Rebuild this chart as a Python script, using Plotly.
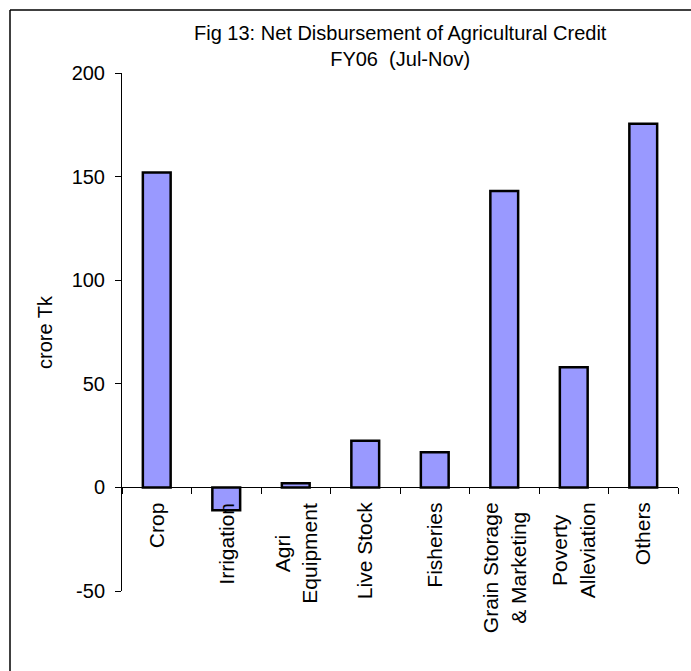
import plotly.graph_objects as go

# Net disbursement of agricultural credit, FY06 (Jul-Nov), crore Tk
categories = ["Crop", "Irrigation", "Agri Equipment", "Live Stock", "Fisheries",
              "Grain Storage & Marketing", "Poverty Alleviation", "Others"]
tick_labels = ["Crop", "Irrigation", "Agri<br>Equipment", "Live Stock", "Fisheries",
               "Grain Storage<br>& Marketing", "Poverty<br>Alleviation", "Others"]
values = [152, -11, 2, 22.5, 17, 143, 58, 175.5]
y_ticks = [-50, 0, 50, 100, 150, 200]

FONT = "Liberation Sans, Arial, sans-serif"
W, H = 691, 671
M_L, M_R, M_T, M_B = 122, 13, 73, 80
plot_w = W - M_L - M_R
plot_h = H - M_T - M_B


def px_to_paper_x(px):
    return (px - M_L) / plot_w


def px_to_paper_y(py):
    return (H - M_B - py) / plot_h


y_min, y_max = -50, 200

fig = go.Figure()
fig.add_trace(go.Bar(
    x=categories,
    y=values,
    width=0.4,
    marker=dict(color="#9999FF", line=dict(color="black", width=2.5)),
    showlegend=False,
))

# Category labels, rotated and hung just below the zero line
annotations = []
for cat, lab in zip(categories, tick_labels):
    annotations.append(dict(
        x=cat, y=0, xref="x", yref="y",
        text=lab, textangle=-90, showarrow=False,
        xanchor="center", yanchor="top", yshift=-13, align="center",
        font=dict(family=FONT, size=21, color="black"),
    ))

# Title
annotations.append(dict(
    x=px_to_paper_x(400), y=px_to_paper_y(46), xref="paper", yref="paper",
    text="Fig 13: Net Disbursement of Agricultural Credit<br>FY06\u00a0 (Jul-Nov)",
    showarrow=False, xanchor="center", yanchor="middle", align="center",
    font=dict(family=FONT, size=20, color="black"),
))

# Value-axis title
annotations.append(dict(
    x=px_to_paper_x(45), y=0.5, xref="paper", yref="paper",
    text="crore Tk", textangle=-90, showarrow=False,
    xanchor="center", yanchor="middle",
    font=dict(family=FONT, size=20, color="black"),
))

# Chart-area frame: left and top edges
frame = dict(type="line", xref="paper", yref="paper",
             line=dict(color="black", width=1.5), layer="below")
shapes = [
    dict(frame, x0=px_to_paper_x(10), x1=px_to_paper_x(10),
         y0=px_to_paper_y(10), y1=px_to_paper_y(H + 5)),
    dict(frame, x0=px_to_paper_x(10), x1=px_to_paper_x(W + 5),
         y0=px_to_paper_y(10), y1=px_to_paper_y(10)),
]

fig.update_layout(
    width=W, height=H, autosize=False,
    margin=dict(l=M_L, r=M_R, t=M_T, b=M_B, pad=0),
    paper_bgcolor="white", plot_bgcolor="white",
    font=dict(family=FONT, size=20, color="black"),
    annotations=annotations,
    shapes=shapes,
    bargap=0.6,
)

fig.update_xaxes(
    type="category", range=[-0.5, len(categories) - 0.5],
    anchor="free", position=(0 - y_min) / (y_max - y_min),
    showline=True, linecolor="black", linewidth=1,
    ticks="outside", tickson="boundaries", ticklen=6, tickcolor="black",
    showticklabels=False, showgrid=False, zeroline=False,
)
fig.update_yaxes(
    range=[y_min, y_max], tickvals=y_ticks, ticktext=[str(v) for v in y_ticks],
    showline=True, linecolor="black", linewidth=1,
    ticks="outside", ticklen=6, tickcolor="black",
    ticklabelstandoff=6,
    tickfont=dict(family=FONT, size=20, color="black"),
    showgrid=False, zeroline=False,
)

fig.write_html("out.html")
